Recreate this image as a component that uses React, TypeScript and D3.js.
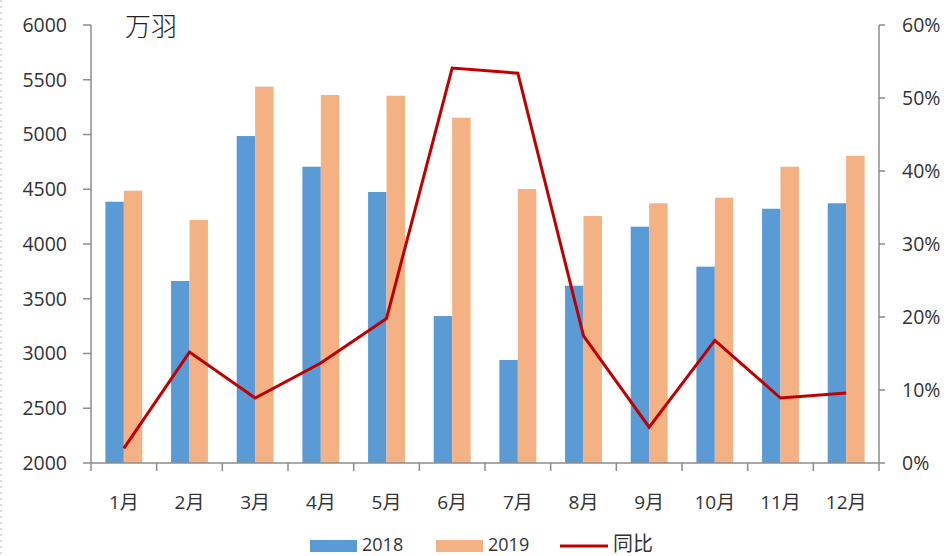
import React from "react";
import * as d3 from "d3";

const months = ["1月", "2月", "3月", "4月", "5月", "6月", "7月", "8月", "9月", "10月", "11月", "12月"];
const v2018 = [4386, 3662, 4986, 4706, 4475, 3342, 2941, 3619, 4158, 3793, 4322, 4372];
const v2019 = [4487, 4219, 5437, 5361, 5354, 5153, 4502, 4256, 4372, 4423, 4706, 4806];
const yoy = [2.0, 15.2, 8.9, 13.7, 19.8, 54.1, 53.4, 17.4, 4.9, 16.8, 8.9, 9.6];
const leftTicks = [2000, 2500, 3000, 3500, 4000, 4500, 5000, 5500, 6000];
const rightTicks = [0, 10, 20, 30, 40, 50, 60];
const seriesNames = ["2018", "2019"];
const unitLabel = "万羽";
const lineName = "同比";

const W = 949;
const H = 556;
const L = 91;
const R = 879;
const T = 25;
const B = 463;
const BLUE = "#5B9BD5";
const ORANGE = "#F4B183";
const RED = "#C00000";
const AXIS = "#8C8C8C";
const TXT = "#333333";
const NUMFONT = "'Open Sans', 'DejaVu Sans', sans-serif";
const CJKFONT = "'Noto Sans CJK SC', sans-serif";

export default function App() {
  const x = d3.scaleBand<string>().domain(months).range([L, R]).padding(0);
  const step = x.step();
  const xs = d3.scaleBand<string>().domain(seriesNames).range([0, step]).paddingInner(0).paddingOuter(0.78);
  const yL = d3.scaleLinear().domain([2000, 6000]).range([B, T]);
  const yR = d3.scaleLinear().domain([0, 60]).range([B, T]);
  const line = d3
    .line<number>()
    .x((_, i) => (x(months[i]) as number) + step / 2)
    .y((d) => yR(d));
  const data = [v2018, v2019];
  const colors = [BLUE, ORANGE];

  return (
    <svg
      width={W}
      height={H}
      style={{ position: "absolute", left: 0, top: 0, background: "#fff" }}
    >
      <line x1={1} y1={0} x2={1} y2={H} stroke="#bbb" strokeDasharray="2,4" />
      {data.map((vals, si) =>
        vals.map((v, i) => (
          <rect
            key={`${si}-${i}`}
            x={(x(months[i]) as number) + (xs(seriesNames[si]) as number)}
            y={yL(v)}
            width={xs.bandwidth()}
            height={B - yL(v)}
            fill={colors[si]}
          />
        ))
      )}
      <line x1={L} y1={T} x2={L} y2={B} stroke={AXIS} strokeWidth={1.5} />
      <line x1={R} y1={T} x2={R} y2={B} stroke={AXIS} strokeWidth={1.5} />
      <line x1={L} y1={B} x2={R} y2={B} stroke={AXIS} strokeWidth={1.5} />
      {leftTicks.map((t) => (
        <g key={`l${t}`}>
          <line x1={L - 8} x2={L} y1={yL(t)} y2={yL(t)} stroke={AXIS} strokeWidth={1.5} />
          <text
            x={67}
            y={yL(t)}
            dy="0.35em"
            textAnchor="end"
            fontFamily={NUMFONT}
            fontSize={19.5}
            fill={TXT}
          >
            {t}
          </text>
        </g>
      ))}
      {rightTicks.map((t) => (
        <g key={`r${t}`}>
          <line x1={R} x2={R + 6} y1={yR(t)} y2={yR(t)} stroke={AXIS} strokeWidth={1.5} />
          <text
            x={902}
            y={yR(t)}
            dy="0.35em"
            textAnchor="start"
            fontFamily={NUMFONT}
            fontSize={19.5}
            fill={TXT}
          >
            {t}%
          </text>
        </g>
      ))}
      {months.map((m, i) => (
        <line
          key={`xt${i}`}
          x1={x(m) as number}
          x2={x(m) as number}
          y1={B}
          y2={B + 8}
          stroke={AXIS}
          strokeWidth={1.5}
        />
      ))}
      <line x1={R} x2={R} y1={B} y2={B + 8} stroke={AXIS} strokeWidth={1.5} />
      {months.map((m) => (
        <text
          key={`xl${m}`}
          x={(x(m) as number) + step / 2}
          y={502}
          dy="0.35em"
          textAnchor="middle"
          fontFamily={`'Open Sans', ${CJKFONT}`}
          fontSize={19}
          fill={TXT}
        >
          {m}
        </text>
      ))}
      <path d={line(yoy) || ""} fill="none" stroke={RED} strokeWidth={3} strokeLinejoin="miter" />
      <text x={125} y={27} dy="0.35em" fontFamily={CJKFONT} fontSize={26} fontWeight={300} fill="#222">
        {unitLabel}
      </text>
      <rect x={310} y={540} width={47} height={12} fill={BLUE} />
      <text x={362} y={545} dy="0.35em" fontFamily={NUMFONT} fontSize={18} fill={TXT}>
        {seriesNames[0]}
      </text>
      <rect x={436} y={540} width={47} height={12} fill={ORANGE} />
      <text x={488} y={545} dy="0.35em" fontFamily={NUMFONT} fontSize={18} fill={TXT}>
        {seriesNames[1]}
      </text>
      <line x1={560} x2={608} y1={546} y2={546} stroke={RED} strokeWidth={3} />
      <text x={613} y={544} dy="0.35em" fontFamily={CJKFONT} fontSize={20} fill={TXT}>
        {lineName}
      </text>
    </svg>
  );
}
